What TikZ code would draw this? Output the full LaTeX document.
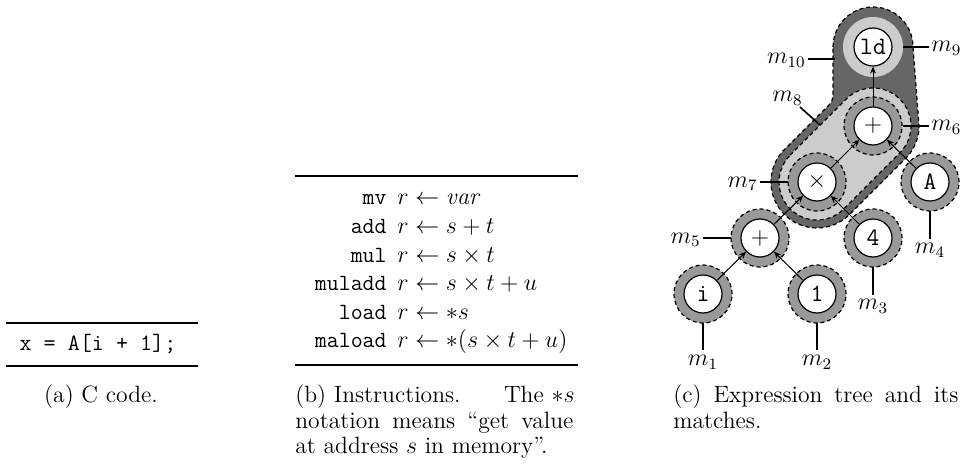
\documentclass[tikz,border=0pt]{standalone}
\usetikzlibrary{arrows.meta}
\definecolor{ringgray}{gray}{0.6}
\definecolor{lightgray2}{gray}{0.8}
\definecolor{darkgray2}{gray}{0.4}
\begin{document}
\begin{tikzpicture}[x=0.5pt,y=-0.5pt,
  tnode/.style={circle, draw, fill=white, minimum size=19pt, inner sep=0pt, line width=0.6pt, font=\fontsize{12.5}{14}\selectfont},
  dashpat/.style={dash pattern=on 2pt off 1.5pt, line width=0.6pt},
  edgearr/.style={-{Stealth[length=3.5pt,width=3pt]}, line width=0.5pt},
  lbl/.style={line width=0.8pt},
  lbltext/.style={font=\fontsize{11.5}{13}\selectfont, inner sep=0pt},
  rulel/.style={line width=1pt},
  captxt/.style={font=\fontsize{11.8}{12.75}\selectfont, inner sep=0pt},
  tabtxt/.style={font=\fontsize{11.6}{13.5}\selectfont, inner sep=0pt}
]
\useasboundingbox (0,0) rectangle (967,470);

% ---------- (a) ----------
\coordinate (a1) at (6,323); \coordinate (a2) at (198,323);
\coordinate (a3) at (6,366); \coordinate (a4) at (198,366);
\draw[rulel] (a1) -- (a2);
\draw[rulel] (a3) -- (a4);
\node[tabtxt, font=\fontsize{11.7}{14}\ttfamily, anchor=base] (code) at (98,350) {x = A[i + 1];};
\node[captxt, anchor=base] (capa) at (101,402.5) {(a) C code.};

% ---------- (b) ----------
\coordinate (b1) at (295,176); \coordinate (b2) at (578,176);
\coordinate (b3) at (295,365); \coordinate (b4) at (578,365);
\draw[rulel] (b1) -- (b2);
\draw[rulel] (b3) -- (b4);
\node[tabtxt, anchor=base east] (n1) at (387,205) {\ttfamily mv};
\node[tabtxt, anchor=base west] (e1) at (397,205) {$r \gets \mathit{var}$};
\node[tabtxt, anchor=base east] (n2) at (387,233.5) {\ttfamily add};
\node[tabtxt, anchor=base west] (e2) at (397,233.5) {$r \gets s + t$};
\node[tabtxt, anchor=base east] (n3) at (387,262) {\ttfamily mul};
\node[tabtxt, anchor=base west] (e3) at (397,262) {$r \gets s \times t$};
\node[tabtxt, anchor=base east] (n4) at (387,290.5) {\ttfamily muladd};
\node[tabtxt, anchor=base west] (e4) at (397,290.5) {$r \gets s \times t + u$};
\node[tabtxt, anchor=base east] (n5) at (387,319) {\ttfamily load};
\node[tabtxt, anchor=base west] (e5) at (397,319) {$r \gets {*}s$};
\node[tabtxt, anchor=base east] (n6) at (387,347.5) {\ttfamily maload};
\node[tabtxt, anchor=base west] (e6) at (397,347.5) {$r \gets {*}(s \times t + u)$};
\node[captxt, anchor=base west] (cb1) at (295,402.5) {(b) Instructions.};
\node[captxt, anchor=base east] (cb2) at (575,402.5) {The ${*}s$};
\node[captxt, anchor=base west] (cb3) at (295,428) {\makebox[139pt][s]{notation means ``get value}};
\node[captxt, anchor=base west] (cb4) at (295,453.5) {at address $s$ in memory''.};

% ---------- (c) ----------
\coordinate (cld) at (873,47);
\coordinate (cpt) at (873,126);
\coordinate (cmul) at (817,182);
\coordinate (cA) at (930,182);
\coordinate (cpb) at (760,238);
\coordinate (cfour) at (873,238);
\coordinate (ci) at (703,294);
\coordinate (cone) at (817,294);

% m10
\path[fill=darkgray2, draw, dashpat] (833,47) arc[start angle=180,end angle=0,radius=20pt]
  -- (919,126) arc[start angle=0,end angle=-45,radius=23pt]
  -- (849.5,214.5) arc[start angle=-45,end angle=-225,radius=23pt]
  -- (824,110) .. controls (833,101) .. (833,91) -- cycle;
% m8
\path[fill=lightgray2, draw, dashpat] (790.1,155.1) -- (846.1,99.1) arc[start angle=135,end angle=-45,radius=19pt]
  -- (843.9,208.9) arc[start angle=-45,end angle=-225,radius=19pt] -- cycle;
% m9
\fill[lightgray2] (cld) circle[radius=15pt];
% rings
\foreach \c in {cpt,cmul,cA,cpb,cfour,ci,cone}{
  \fill[ringgray] (\c) circle[radius=14.5pt];
  \draw[dashpat] (\c) circle[radius=14.5pt];
}

\node[tnode] (ld) at (cld) {\ttfamily ld};
\node[tnode] (pt) at (cpt) {$+$};
\node[tnode] (mul) at (cmul) {$\times$};
\node[tnode] (A) at (cA) {\ttfamily A};
\node[tnode] (pb) at (cpb) {$+$};
\node[tnode] (four) at (cfour) {\ttfamily 4};
\node[tnode] (i) at (ci) {\ttfamily i};
\node[tnode] (one) at (cone) {\ttfamily 1};

\draw[edgearr] (i) -- (pb);
\draw[edgearr] (one) -- (pb);
\draw[edgearr] (pb) -- (mul);
\draw[edgearr] (four) -- (mul);
\draw[edgearr] (mul) -- (pt);
\draw[edgearr] (A) -- (pt);
\draw[edgearr] (pt) -- (ld);

% labels
\coordinate (l10a) at (808,59); \coordinate (l10b) at (835,59);
\draw[lbl] (l10a) -- (l10b);
\node[lbltext, anchor=base east] (m10) at (806,64) {$m_{10}$};
\coordinate (l9a) at (903,47); \coordinate (l9b) at (929,47);
\draw[lbl] (l9a) -- (l9b);
\node[lbltext, anchor=base west] (m9) at (931,52) {$m_{9}$};
\coordinate (l6a) at (903,126); \coordinate (l6b) at (929,126);
\draw[lbl] (l6a) -- (l6b);
\node[lbltext, anchor=base west] (m6) at (931,131) {$m_{6}$};
\coordinate (l8a) at (800,107); \coordinate (l8b) at (820,125);
\draw[lbl] (l8a) -- (l8b);
\node[lbltext, anchor=base east] (m8) at (803,102) {$m_{8}$};
\coordinate (l7a) at (760,182); \coordinate (l7b) at (788,182);
\draw[lbl] (l7a) -- (l7b);
\node[lbltext, anchor=base east] (m7) at (758,187) {$m_{7}$};
\coordinate (l5a) at (703,238); \coordinate (l5b) at (731,238);
\draw[lbl] (l5a) -- (l5b);
\node[lbltext, anchor=base east] (m5) at (701,243) {$m_{5}$};
\coordinate (l1a) at (703,323); \coordinate (l1b) at (703,350);
\draw[lbl] (l1a) -- (l1b);
\node[lbltext, anchor=north] (m1) at (703,355) {$m_{1}$};
\coordinate (l2a) at (817,323); \coordinate (l2b) at (817,350);
\draw[lbl] (l2a) -- (l2b);
\node[lbltext, anchor=north] (m2) at (817,355) {$m_{2}$};
\coordinate (l3a) at (873,267); \coordinate (l3b) at (873,295);
\draw[lbl] (l3a) -- (l3b);
\node[lbltext, anchor=north] (m3) at (873,299) {$m_{3}$};
\coordinate (l4a) at (930,211); \coordinate (l4b) at (930,239);
\draw[lbl] (l4a) -- (l4b);
\node[lbltext, anchor=north] (m4) at (930,243) {$m_{4}$};

\node[captxt, anchor=base west] (cc1) at (673,402.5) {\makebox[142.5pt][s]{(c) Expression tree and its}};
\node[captxt, anchor=base west] (cc2) at (673,428) {matches.};
\end{tikzpicture}
\end{document}
